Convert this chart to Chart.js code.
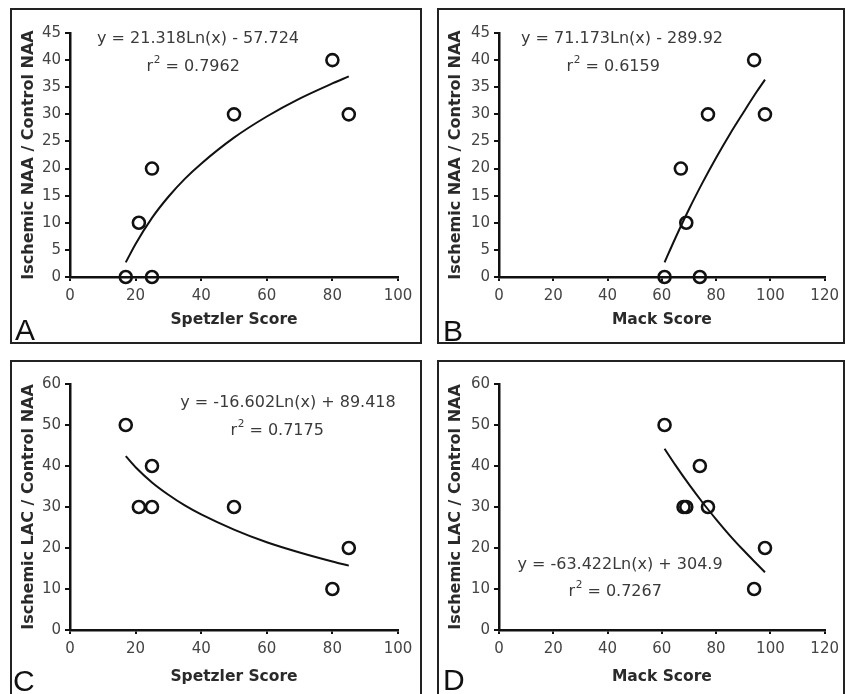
<!DOCTYPE html>
<html><head><meta charset="utf-8">
<script src="https://cdn.jsdelivr.net/npm/chart.js@4.4.0/dist/chart.umd.min.js"></script>
<style>
html,body{margin:0;padding:0;background:#fff;width:845px;height:694px;overflow:hidden;position:relative}
.p{position:absolute}
canvas{display:block}
</style></head><body>
<div class="p" style="left:10px;top:8px"><canvas id="cA" width="412" height="336"></canvas></div>
<div class="p" style="left:437px;top:8px"><canvas id="cB" width="408" height="336"></canvas></div>
<div class="p" style="left:10px;top:360px"><canvas id="cC" width="412" height="345"></canvas></div>
<div class="p" style="left:437px;top:360px"><canvas id="cD" width="408" height="345"></canvas></div>
<script>
// ---- Data ----
// Panel A: Spetzler score vs Ischemic NAA / Control NAA
const spetzlerA = [17, 21, 25, 25, 50, 80, 85];
const naaA      = [0, 10, 0, 20, 30, 40, 30];
const trendAx   = [17, 20, 25, 30, 35, 40, 50, 60, 70, 80, 85];
const trendAy   = [2.7, 6.1, 10.9, 14.8, 18.1, 20.9, 25.7, 29.6, 32.9, 35.7, 37.0];
// Panel B: Mack score vs Ischemic NAA / Control NAA
const mackB     = [61, 67, 69, 74, 77, 94, 98];
const naaB      = [0, 20, 10, 0, 30, 40, 30];
const trendBx   = [61, 65, 70, 75, 80, 85, 90, 95, 98];
const trendBy   = [2.7, 7.2, 12.5, 17.4, 22.0, 26.3, 30.3, 34.2, 36.4];
// Panel C: Spetzler score vs Ischemic LAC / Control NAA
const spetzlerC = [17, 21, 25, 25, 50, 80, 85];
const lacC      = [50, 30, 40, 30, 30, 10, 20];
const trendCx   = [17, 20, 25, 30, 35, 40, 50, 60, 70, 80, 85];
const trendCy   = [42.4, 39.7, 36.0, 33.0, 30.4, 28.2, 24.5, 21.4, 18.9, 16.7, 15.7];
// Panel D: Mack score vs Ischemic LAC / Control NAA
const mackD     = [61, 68, 69, 74, 77, 94, 98];
const lacD      = [50, 30, 30, 40, 30, 10, 20];
const trendDx   = [61, 65, 70, 75, 80, 85, 90, 95, 98];
const trendDy   = [44.2, 40.2, 35.5, 31.1, 27.0, 23.1, 19.5, 16.1, 14.1];

const eqA = "y = 21.318Ln(x) - 57.724",  r2A = "0.7962";
const eqB = "y = 71.173Ln(x) - 289.92",  r2B = "0.6159";
const eqC = "y = -16.602Ln(x) + 89.418", r2C = "0.7175";
const eqD = "y = -63.422Ln(x) + 304.9",  r2D = "0.7267";

const titleNAA = "Ischemic NAA / Control NAA";
const titleLAC = "Ischemic LAC / Control NAA";
const titleSpetzler = "Spetzler Score";
const titleMack = "Mack Score";

// ---- Rendering ----
Chart.defaults.font.family = "'DejaVu Sans', Verdana, sans-serif";
Chart.defaults.color = '#444';

function zip(xs, ys){ return xs.map((x,i)=>({x:x, y:ys[i]})); }

const decor = {
  id: 'decor',
  afterDraw(chart, args, o){
    const ctx = chart.ctx, W = chart.width, H = chart.height;
    ctx.save();
    // frame
    ctx.strokeStyle = '#222'; ctx.lineWidth = 2;
    ctx.strokeRect(1, 1, W - 2, o.frameH ? o.frameH - 2 : H - 2);
    // letter
    ctx.fillStyle = '#111';
    ctx.font = "30px 'Liberation Sans', Arial, sans-serif";
    ctx.textBaseline = 'alphabetic'; ctx.textAlign = 'left';
    ctx.fillText(o.letter, o.letterX, o.letterY);
    // equation
    const big = "16px 'DejaVu Sans', Verdana, sans-serif";
    const small = "10.5px 'DejaVu Sans', Verdana, sans-serif";
    ctx.fillStyle = '#3a3a3a';
    ctx.font = big;
    ctx.textAlign = 'center'; ctx.textBaseline = 'middle';
    ctx.fillText(o.eq, o.eqX, o.eqY);
    // r^2 line
    const rest = ' = ' + o.r2;
    ctx.font = big; const wr = ctx.measureText('r').width, wrest = ctx.measureText(rest).width;
    ctx.font = small; const w2 = ctx.measureText('2').width;
    let x = o.r2X - (wr + w2 + wrest) / 2;
    ctx.textAlign = 'left';
    ctx.font = big; ctx.fillText('r', x, o.r2Y); x += wr + 0.5;
    ctx.font = small; ctx.fillText('2', x, o.r2Y - 7); x += w2;
    ctx.font = big; ctx.fillText(rest, x, o.r2Y);
    ctx.restore();
  }
};

function makeChart(id, cfg){
  new Chart(document.getElementById(id), {
    type: 'scatter',
    data: {
      datasets: [
        { data: zip(cfg.tx, cfg.ty), type: 'line', showLine: true, borderColor: '#111', borderWidth: 2,
          pointRadius: 0, fill: false, cubicInterpolationMode: 'monotone', order: 2 },
        { data: zip(cfg.px, cfg.py), pointStyle: 'circle', pointRadius: 6, pointBorderWidth: 2.6,
          pointBorderColor: '#111', pointBackgroundColor: 'rgba(255,255,255,0)', showLine: false, order: 1 }
      ]
    },
    options: {
      responsive: false, animation: false, clip: false,
      layout: { padding: { top: cfg.padTop, right: cfg.padRight, left: 0, bottom: 0 } },
      plugins: { legend: { display: false }, tooltip: { enabled: false },
        decor: cfg.decor },
      scales: {
        x: {
          type: 'linear', min: 0, max: cfg.xMax,
          ticks: { stepSize: 20, font: { size: 15 }, color: '#444', padding: 6, maxRotation: 0 },
          border: { color: '#111', width: 2.5 },
          grid: { display: true, drawOnChartArea: false, drawTicks: true, tickLength: 4, color: '#111', lineWidth: 2 },
          title: { display: true, text: cfg.xTitle, color: '#2a2a2a', font: { size: 15.5, weight: 'bold' },
                   padding: { top: 0, bottom: cfg.xTitlePad } },
          afterFit: s => { s.height = cfg.xH; }
        },
        y: {
          type: 'linear', min: 0, max: cfg.yMax,
          ticks: { stepSize: cfg.yStep, font: { size: 15 }, color: '#444', padding: 4 },
          border: { color: '#111', width: 2.5 },
          grid: { display: true, drawOnChartArea: false, drawTicks: true, tickLength: 5, color: '#111', lineWidth: 2 },
          title: { display: true, text: cfg.yTitle, color: '#2a2a2a', font: { size: 16, weight: 'bold' },
                   padding: { top: 9, bottom: 0 } },
          afterFit: s => { s.width = cfg.yW; }
        }
      }
    },
    plugins: [decor]
  });
}

makeChart('cA', { px: spetzlerA, py: naaA, tx: trendAx, ty: trendAy, xMax: 100, yMax: 45, yStep: 5,
  xTitle: titleSpetzler, yTitle: titleNAA, padTop: 25, padRight: 24, yW: 60, xH: 67, xTitlePad: 15,
  decor: { letter: 'A', letterX: 5, letterY: 332, eq: eqA, eqX: 188, eqY: 31, r2: r2A, r2X: 183, r2Y: 59 } });
makeChart('cB', { px: mackB, py: naaB, tx: trendBx, ty: trendBy, xMax: 120, yMax: 45, yStep: 5,
  xTitle: titleMack, yTitle: titleNAA, padTop: 25, padRight: 18, yW: 62, xH: 67, xTitlePad: 15,
  decor: { letter: 'B', letterX: 6, letterY: 333, eq: eqB, eqX: 185, eqY: 31, r2: r2B, r2X: 176, r2Y: 59 } });
makeChart('cC', { px: spetzlerC, py: lacC, tx: trendCx, ty: trendCy, xMax: 100, yMax: 60, yStep: 10,
  xTitle: titleSpetzler, yTitle: titleLAC, padTop: 24, padRight: 24, yW: 60, xH: 75, xTitlePad: 19,
  decor: { letter: 'C', letterX: 3, letterY: 331, eq: eqC, eqX: 278, eqY: 43, r2: r2C, r2X: 267, r2Y: 71, frameH: 400 } });
makeChart('cD', { px: mackD, py: lacD, tx: trendDx, ty: trendDy, xMax: 120, yMax: 60, yStep: 10,
  xTitle: titleMack, yTitle: titleLAC, padTop: 24, padRight: 18, yW: 62, xH: 75, xTitlePad: 19,
  decor: { letter: 'D', letterX: 6, letterY: 330, eq: eqD, eqX: 183, eqY: 205, r2: r2D, r2X: 178, r2Y: 232, frameH: 400 } });
</script>
</body></html>
